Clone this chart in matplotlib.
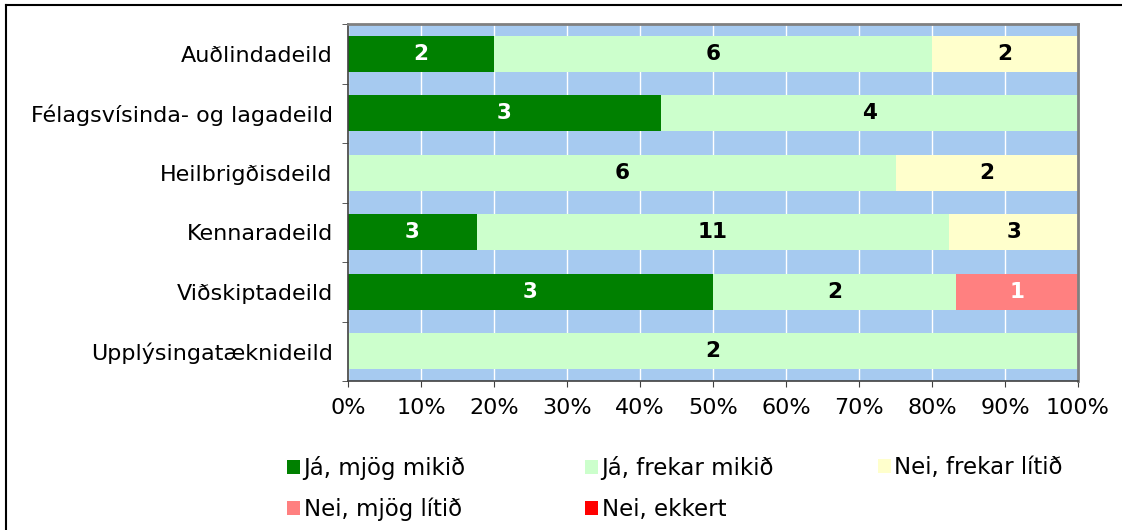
import numpy as np
import matplotlib.pyplot as plt
from matplotlib.patches import Patch
from matplotlib.lines import Line2D

plt.rcParams['font.family'] = ['DejaVu Sans']

deildir = ['Auðlindadeild', 'Félagsvísinda- og lagadeild', 'Heilbrigðisdeild',
           'Kennaradeild', 'Viðskiptadeild', 'Upplýsingatæknideild']
svor = ['Já, mjög mikið', 'Já, frekar mikið', 'Nei, frekar lítið',
        'Nei, mjög lítið', 'Nei, ekkert']
# fjöldi svara í hverjum flokki, ein röð á hverja deild
ja_mjog = [2, 3, 0, 3, 3, 0]
ja_frekar = [6, 4, 6, 11, 2, 2]
nei_frekar = [2, 0, 2, 3, 0, 0]
nei_mjog = [0, 0, 0, 0, 1, 0]
nei_ekkert = [0, 0, 0, 0, 0, 0]
xticks = ['0%', '10%', '20%', '30%', '40%', '50%', '60%', '70%', '80%', '90%', '100%']

colors = ['#008000', '#CCFFCC', '#FFFFCC', '#FF8080', '#FF0000']
text_colors = ['white', 'black', 'black', 'white', 'white']
fs = 16

counts = np.array([ja_mjog, ja_frekar, nei_frekar, nei_mjog, nei_ekkert], dtype=float)
shares = counts / counts.sum(axis=0) * 100

fig = plt.figure(figsize=(11.22, 5.30), dpi=100)
ax = fig.add_axes([348 / 1122, 1 - 381 / 530, 730 / 1122, 357 / 530])
ax.set_facecolor('#A6CAF0')

y = np.arange(len(deildir))
left = np.zeros(len(deildir))
for i in range(len(svor)):
    ax.barh(y, shares[i], left=left, height=0.6, color=colors[i], zorder=2)
    for j in range(len(deildir)):
        if counts[i, j] > 0:
            ax.text(left[j] + shares[i, j] / 2, y[j], '%d' % counts[i, j],
                    ha='center', va='center', fontsize=15.5, fontweight='bold',
                    color=text_colors[i], zorder=3)
    left += shares[i]

ax.set_xlim(0, 100)
ax.set_ylim(len(deildir) - 0.5, -0.5)
ax.set_xticks(np.arange(0, 101, 10))
ax.set_xticklabels(xticks, fontsize=fs)
ax.set_yticks(y)
ax.set_yticklabels(deildir, fontsize=fs)
ax.tick_params(axis='y', length=0, pad=11)
ax.set_yticks(np.arange(-0.5, len(deildir), 1), minor=True)
ax.tick_params(axis='y', which='minor', length=4.3, color='#404040')
ax.tick_params(axis='x', length=4.3, color='#404040', pad=8)
ax.grid(axis='x', color='white', linewidth=1, zorder=1)
ax.set_axisbelow(True)

for side in ['left', 'bottom']:
    ax.spines[side].set_color('#404040')
    ax.spines[side].set_linewidth(1.2)
for side in ['top', 'right']:
    ax.spines[side].set_color('#808080')
    ax.spines[side].set_linewidth(2)

# skýringar í þremur dálkum
handles = [Patch(facecolor=c, edgecolor='none') for c in colors]
columns = [[0, 3], [1, 4], [2]]
col_x = [287 / 1122, 585 / 1122, 878 / 1122]
for cx, idx in zip(col_x, columns):
    leg = fig.legend([handles[k] for k in idx], [svor[k] for k in idx],
                     loc='upper left', bbox_to_anchor=(cx, 1 - 456 / 530),
                     frameon=False, fontsize=16.5, handlelength=0.57,
                     handleheight=0.57, handletextpad=0.15, labelspacing=0.78,
                     borderaxespad=0, borderpad=0)

# rammi utan um myndina
fig.add_artist(Line2D([6 / 1122, 1.0], [1 - 4.5 / 530, 1 - 4.5 / 530],
                      transform=fig.transFigure, color='black', linewidth=1.5))
fig.add_artist(Line2D([6 / 1122, 6 / 1122], [0, 1 - 4.5 / 530],
                      transform=fig.transFigure, color='black', linewidth=1.5))

fig.savefig('out.png', dpi=100)
